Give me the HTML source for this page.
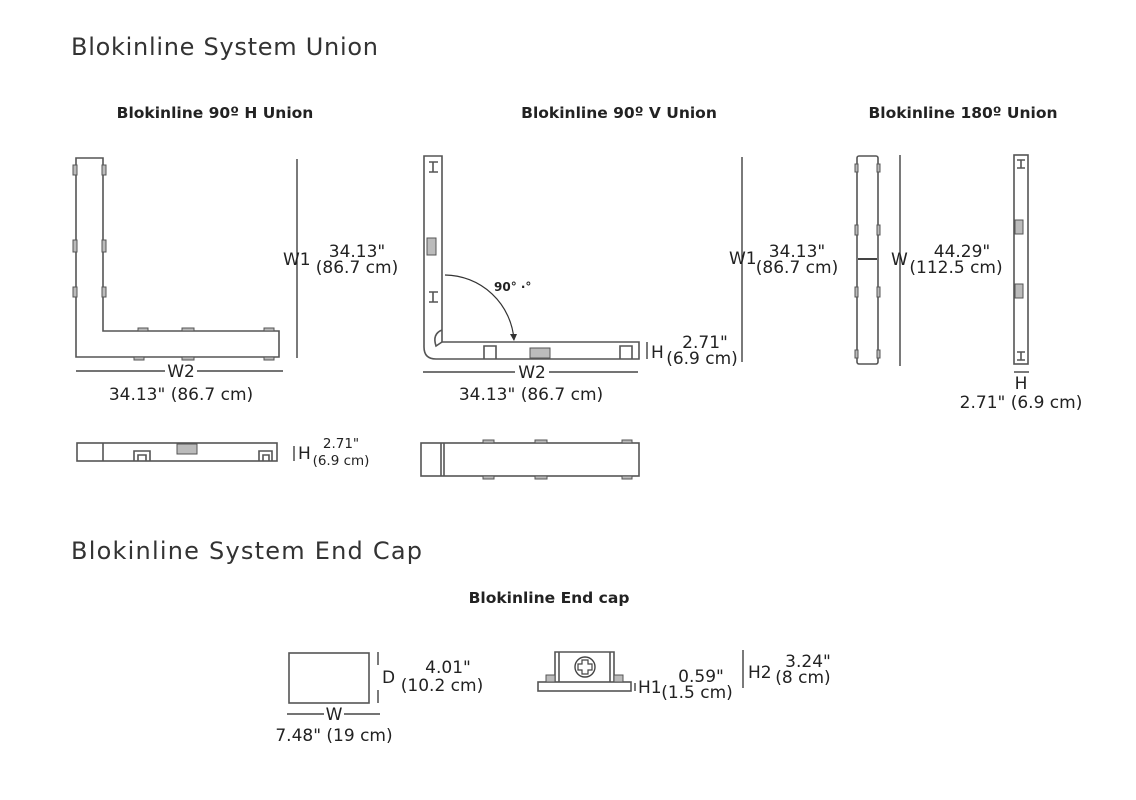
<!DOCTYPE html>
<html><head><meta charset="utf-8"><style>
html,body{margin:0;padding:0;background:#fff;}
svg{display:block;}
text{font-family:"DejaVu Sans","Liberation Sans",sans-serif;fill:#222;}
.h{font-size:24px;font-weight:normal;fill:#333;}
.s{font-size:15.5px;font-weight:bold;}
.d{font-size:17px;}
.sm{font-size:13.5px;}
.o{fill:none;stroke:#555;stroke-width:1.6;}
.l{stroke:#222;stroke-width:1.2;}
.p{fill:#bbb;stroke:#555;stroke-width:1;}
</style></head><body>
<svg width="1136" height="800" viewBox="0 0 1136 800">
<text x="71" y="55" class="h" textLength="307">Blokinline System Union</text>
<text x="215" y="118" class="s" text-anchor="middle">Blokinline 90º H Union</text>
<text x="619" y="118" class="s" text-anchor="middle">Blokinline 90º V Union</text>
<text x="963" y="118" class="s" text-anchor="middle">Blokinline 180º Union</text>

<!-- H union -->
<path class="o" d="M76 158 H103 V331 H279 V357 H76 Z"/>
<g class="p"><rect x="73" y="165" width="4" height="10"/><rect x="73" y="240" width="4" height="12"/><rect x="73" y="287" width="4" height="10"/><rect x="102" y="165" width="4" height="10"/><rect x="102" y="240" width="4" height="12"/><rect x="102" y="287" width="4" height="10"/><rect x="138" y="328" width="10" height="3"/><rect x="182" y="328" width="12" height="3"/><rect x="264" y="328" width="10" height="3"/><rect x="134" y="357" width="10" height="3"/><rect x="182" y="357" width="12" height="3"/><rect x="264" y="357" width="10" height="3"/></g>
<line class="l" x1="297" y1="159" x2="297" y2="358"/>
<text x="283" y="265" class="d">W1</text>
<text x="357" y="257" class="d" text-anchor="middle">34.13"</text>
<text x="357" y="273" class="d" text-anchor="middle">(86.7 cm)</text>
<line class="l" x1="76" y1="371" x2="165" y2="371"/><line class="l" x1="197" y1="371" x2="283" y2="371"/>
<text x="181" y="377" class="d" text-anchor="middle">W2</text>
<text x="181" y="400" class="d" text-anchor="middle">34.13" (86.7 cm)</text>
<rect class="o" x="77" y="443" width="200" height="18"/>
<line class="o" x1="103" y1="443" x2="103" y2="461"/>
<g class="o" stroke-width="1.2"><path d="M134 461 V451 H150 V461 M138 461 V455 H146 V461"/><path d="M259 461 V451 H272 V461 M263 461 V455 H269 V461"/></g>
<rect class="p" x="177" y="444" width="20" height="10"/>
<line class="l" x1="294" y1="446" x2="294" y2="461"/>
<text x="298" y="459" class="d">H</text>
<text x="341" y="448" class="sm" text-anchor="middle">2.71"</text>
<text x="341" y="465" class="sm" text-anchor="middle">(6.9 cm)</text>

<!-- V union -->
<path class="o" d="M424 156 H442 V342 H639 V359 H436 Q424 359 424 347 Z"/>
<path class="o" stroke-width="1" d="M442 330 Q432 334 436 346 L442 342"/>
<g class="o" stroke-width="1.2"><path d="M429 162 H438 M433 162 V172 M429 172 H438"/><path d="M429 292 H438 M433 292 V302 M429 302 H438"/><path d="M484 359 V346 H496 V359"/><path d="M620 359 V346 H632 V359"/></g>
<rect class="p" x="427" y="238" width="9" height="17"/>
<rect class="p" x="530" y="348" width="20" height="10"/>
<path d="M445 275 A70 70 0 0 1 514 340" fill="none" stroke="#333" stroke-width="1.2"/>
<path d="M510 334 L514 341 L517 334 Z" fill="#333"/>
<text x="494" y="291" style="font-size:12px;font-weight:bold">90° ·°</text>
<line class="l" x1="742" y1="157" x2="742" y2="362"/>
<text x="729" y="264" class="d">W1</text>
<text x="797" y="257" class="d" text-anchor="middle">34.13"</text>
<text x="797" y="273" class="d" text-anchor="middle">(86.7 cm)</text>
<line class="l" x1="647" y1="342" x2="647" y2="359"/>
<text x="651" y="358" class="d">H</text>
<text x="705" y="348" class="d" text-anchor="middle">2.71"</text>
<text x="702" y="364" class="d" text-anchor="middle">(6.9 cm)</text>
<line class="l" x1="423" y1="372" x2="515" y2="372"/><line class="l" x1="549" y1="372" x2="638" y2="372"/>
<text x="532" y="378" class="d" text-anchor="middle">W2</text>
<text x="531" y="400" class="d" text-anchor="middle">34.13" (86.7 cm)</text>
<rect class="o" x="421" y="443" width="218" height="33"/>
<line class="o" x1="441" y1="443" x2="441" y2="476"/><line class="o" x1="444" y1="443" x2="444" y2="476"/>
<g class="p"><rect x="483" y="440" width="11" height="3"/><rect x="535" y="440" width="12" height="3"/><rect x="622" y="440" width="10" height="3"/><rect x="483" y="476" width="11" height="3"/><rect x="535" y="476" width="12" height="3"/><rect x="622" y="476" width="10" height="3"/></g>

<!-- 180 -->
<rect class="o" x="857" y="156" width="21" height="208" rx="2"/>
<line x1="858" y1="259" x2="877" y2="259" stroke="#444" stroke-width="2"/>
<g class="p"><rect x="855" y="164" width="3" height="8"/><rect x="877" y="164" width="3" height="8"/><rect x="855" y="225" width="3" height="10"/><rect x="877" y="225" width="3" height="10"/><rect x="855" y="287" width="3" height="10"/><rect x="877" y="287" width="3" height="10"/><rect x="855" y="350" width="3" height="8"/><rect x="877" y="350" width="3" height="8"/></g>
<line class="l" x1="900" y1="155" x2="900" y2="366"/>
<text x="891" y="265" class="d">W</text>
<text x="962" y="257" class="d" text-anchor="middle">44.29"</text>
<text x="956" y="273" class="d" text-anchor="middle">(112.5 cm)</text>
<rect class="o" x="1014" y="155" width="14" height="209"/>
<rect class="p" x="1015" y="220" width="8" height="14"/><rect class="p" x="1015" y="284" width="8" height="14"/>
<g class="o" stroke-width="1"><path d="M1017 160 H1025 M1021 160 V168 M1017 168 H1025"/><path d="M1017 352 H1025 M1021 352 V360 M1017 360 H1025"/></g>
<line class="l" x1="1014" y1="372" x2="1029" y2="372"/>
<text x="1021" y="389" class="d" text-anchor="middle">H</text>
<text x="1021" y="408" class="d" text-anchor="middle">2.71" (6.9 cm)</text>

<!-- End cap -->
<text x="71" y="559" class="h" textLength="351">Blokinline System End Cap</text>
<text x="549" y="603" class="s" text-anchor="middle">Blokinline End cap</text>
<rect class="o" x="289" y="653" width="80" height="50"/>
<line class="l" x1="378" y1="652" x2="378" y2="665"/><line class="l" x1="378" y1="690" x2="378" y2="703"/>
<text x="382" y="683" class="d">D</text>
<text x="448" y="673" class="d" text-anchor="middle">4.01"</text>
<text x="442" y="691" class="d" text-anchor="middle">(10.2 cm)</text>
<line class="l" x1="287" y1="714" x2="324" y2="714"/><line class="l" x1="344" y1="714" x2="380" y2="714"/>
<text x="334" y="720" class="d" text-anchor="middle">W</text>
<text x="334" y="741" class="d" text-anchor="middle">7.48" (19 cm)</text>
<rect class="o" x="538" y="682" width="93" height="9"/>
<path class="o" d="M555 682 V652 H614 V682"/>
<path class="o" stroke-width="1" d="M559 652 V682 M610 652 V682"/>
<rect class="p" x="546" y="675" width="9" height="7"/><rect class="p" x="614" y="675" width="9" height="7"/>
<circle cx="585" cy="667" r="10" fill="none" stroke="#444" stroke-width="1.4"/>
<path d="M582 660 h6 v4 h4 v6 h-4 v4 h-6 v-4 h-4 v-6 h4 z" fill="none" stroke="#444" stroke-width="1.2"/>
<line class="l" x1="635" y1="683" x2="635" y2="691"/>
<text x="638" y="693" class="d">H1</text>
<text x="701" y="682" class="d" text-anchor="middle">0.59"</text>
<text x="697" y="698" class="d" text-anchor="middle">(1.5 cm)</text>
<line class="l" x1="743" y1="650" x2="743" y2="688"/>
<text x="748" y="678" class="d">H2</text>
<text x="808" y="667" class="d" text-anchor="middle">3.24"</text>
<text x="803" y="683" class="d" text-anchor="middle">(8 cm)</text>
</svg>
</body></html>
